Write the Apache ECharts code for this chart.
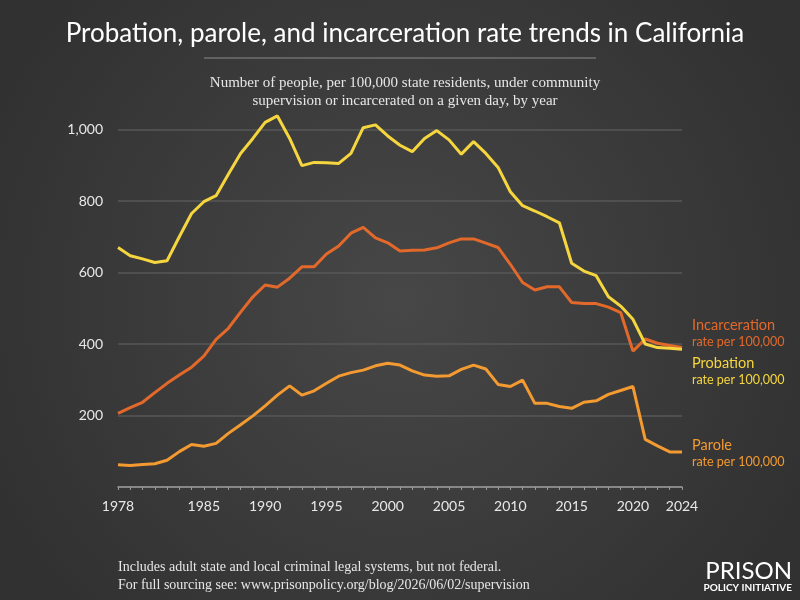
<!DOCTYPE html>
<html>
<head>
<meta charset="utf-8">
<script src="https://cdn.jsdelivr.net/npm/echarts@6/dist/echarts.min.js"></script>
<style>
  html, body { margin: 0; padding: 0; background: #3a3a3a; }
  #main { width: 800px; height: 600px; }
</style>
</head>
<body>
<div id="main"></div>
<script>
// years on the x axis
const years = []
for (let y = 1978; y <= 2024; y++) years.push(String(y))
const labelYears = ['1978', '1985', '1990', '1995', '2000', '2005', '2010', '2015', '2020', '2024']

// rate per 100,000 residents
const probation = [670, 647, 638, 628, 633, 700, 765, 798, 815, 875,
  933, 975, 1020, 1038, 975, 899, 908, 907, 905, 933,
  1005, 1013, 982, 956, 938, 975, 997, 971, 931, 966,
  933, 894, 826, 787, 772, 756, 739, 626, 604, 591,
  532, 506, 469, 400, 390, 388, 385]
const incarceration = [206, 222, 237, 264, 290, 313, 335, 366, 413, 444,
  489, 532, 565, 559, 584, 616, 616, 652, 674, 710,
  726, 697, 683, 660, 662, 663, 669, 683, 694, 694,
  682, 670, 623, 572, 551, 560, 560, 516, 513, 513,
  503, 488, 380, 414, 402, 396, 390]
const parole = [62, 60, 63, 65, 75, 99, 119, 114, 122, 150,
  174, 199, 227, 257, 283, 257, 269, 290, 310, 320,
  327, 339, 346, 341, 325, 313, 310, 311, 329, 341,
  330, 287, 281, 299, 234, 234, 225, 220, 237, 241,
  259, 270, 281, 133, 115, 98, 98]

const sans = 'Lato'
const serif = 'Liberation Serif'

const colors = {
  incarceration: '#e2692a',
  probation: '#f6d63e',
  parole: '#f39a30'
}

const chart = echarts.init(document.getElementById('main'))

function lineSeries(name, data, color, offsetY) {
  return {
    type: 'line',
    name: name,
    data: data,
    symbol: 'none',
    clip: false,
    lineStyle: { color: color, width: 3 },
    itemStyle: { color: color },
    z: name === 'Probation' ? 4 : 3,
    endLabel: {
      show: true,
      distance: 10,
      offset: [0, offsetY],
      formatter: '{a|' + name + '}\n{b|rate per 100,000}',
      rich: {
        a: { color: color, fontFamily: sans, fontSize: 14.5, lineHeight: 17 },
        b: { color: color, fontFamily: sans, fontSize: 12.5, lineHeight: 17 }
      }
    }
  }
}

const option = {
  animation: false,
  graphic: [
    {
      type: 'rect',
      z: -10,
      shape: { x: 0, y: 0, width: 800, height: 600 },
      style: {
        fill: new echarts.graphic.RadialGradient(0.5, 0.5, 0.75, [
          { offset: 0, color: '#474747' },
          { offset: 1, color: '#313131' }
        ])
      }
    },
    {
      type: 'line',
      shape: { x1: 204, y1: 58, x2: 596, y2: 58 },
      style: { stroke: '#8a8a8a', lineWidth: 1 }
    }
  ],
  title: [
    {
      text: 'Probation, parole, and incarceration rate trends in California',
      left: 400,
      top: 16,
      textAlign: 'center',
      textStyle: { color: '#ffffff', fontFamily: sans, fontSize: 26, fontWeight: 'normal' }
    },
    {
      text: 'Number of people, per 100,000 state residents, under community\nsupervision or incarcerated on a given day, by year',
      left: 400,
      top: 69,
      textAlign: 'center',
      textStyle: { color: '#e6e6e6', fontFamily: serif, fontSize: 15, fontWeight: 'normal', lineHeight: 18 }
    },
    {
      text: 'Includes adult state and local criminal legal systems, but not federal.\nFor full sourcing see: www.prisonpolicy.org/blog/2026/06/02/supervision',
      left: 113,
      top: 553,
      textStyle: { color: '#e6e6e6', fontFamily: serif, fontSize: 14, fontWeight: 'normal', lineHeight: 18 }
    },
    {
      text: 'PRISON',
      left: 787,
      top: 554,
      textAlign: 'right',
      textStyle: { color: '#ffffff', fontFamily: sans, fontSize: 24, fontWeight: 'normal' }
    },
    {
      text: 'POLICY INITIATIVE',
      left: 787,
      top: 578,
      textAlign: 'right',
      textStyle: { color: '#ffffff', fontFamily: sans, fontSize: 10, fontWeight: 'bold' }
    }
  ],
  grid: {
    left: 118,
    right: 118,
    top: 129.5,
    bottom: 113
  },
  xAxis: {
    type: 'category',
    data: years,
    boundaryGap: false,
    axisLine: { lineStyle: { color: '#9a9a9a', width: 1.5 } },
    axisTick: { interval: 0, length: 3, lineStyle: { color: '#9a9a9a' } },
    axisLabel: {
      interval: function(i, v) { return labelYears.indexOf(v) >= 0 },
      color: '#e8e8e8',
      fontFamily: sans,
      fontSize: 14,
      margin: 12
    },
    splitLine: { show: false }
  },
  yAxis: {
    type: 'value',
    min: 0,
    max: 1000,
    interval: 200,
    axisLine: { show: false },
    axisTick: { show: false },
    axisLabel: {
      color: '#e8e8e8',
      fontFamily: sans,
      fontSize: 14,
      margin: 15,
      formatter: function(v) {
        return v === 0 ? '' : v.toLocaleString('en-US')
      }
    },
    splitLine: { lineStyle: { color: '#575757', width: 1.5 } }
  },
  series: [
    lineSeries('Incarceration', incarceration, colors.incarceration, -14),
    lineSeries('Probation', probation, colors.probation, 22),
    lineSeries('Parole', parole, colors.parole, 2)
  ]
}

chart.setOption(option)
</script>
</body>
</html>
